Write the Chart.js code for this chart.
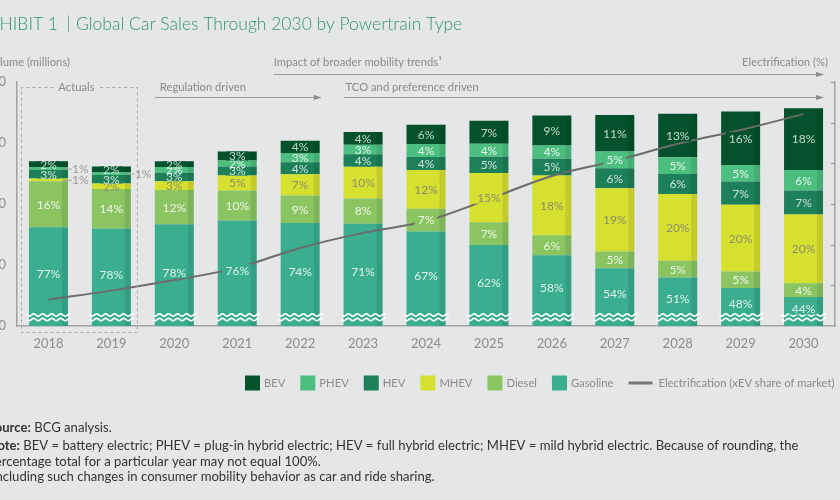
<!DOCTYPE html>
<html><head><meta charset="utf-8">
<script src="https://cdn.jsdelivr.net/npm/chart.js@4.4.1/dist/chart.umd.min.js"></script>
<style>
html,body{margin:0;padding:0;background:#e5e6e7;overflow:hidden;width:840px;height:500px;}
#wrap{position:absolute;left:-40px;top:0;width:920px;height:500px;}
canvas{display:block;}
</style></head><body>
<div id="wrap"><canvas id="c" width="920" height="500"></canvas></div>
<script>
// ---- data ----
const years = ['2018','2019','2020','2021','2022','2023','2024','2025','2026','2027','2028','2029','2030'];
// total volume, millions (axis is broken: bottom tick "0", visible range starts at 40)
const totals = [94.0, 92.3, 94.0, 97.2, 100.7, 103.6, 106.0, 107.3, 109.0, 109.2, 109.6, 110.3, 111.4];
// share of each powertrain, %
const bev      = [2, 2, 2, 3, 4, 4, 6, 7, 9, 11, 13, 16, 18];
const phev     = [1, 1, 2, 2, 3, 3, 4, 4, 4, 5, 5, 5, 6];
const hev      = [3, 3, 3, 3, 4, 4, 4, 5, 5, 6, 6, 7, 7];
const mhev     = [1, 2, 3, 5, 7, 10, 12, 15, 18, 19, 20, 20, 20];
const diesel   = [16, 14, 12, 10, 9, 8, 7, 7, 6, 5, 5, 5, 4];
const gasoline = [77, 78, 78, 76, 74, 71, 67, 62, 58, 54, 51, 48, 44];
// electrification (xEV share of market), %
const electrification = [6.5, 8.7, 11.3, 14.3, 19.2, 22.9, 25.8, 31.2, 36.9, 40.6, 44.8, 48.2, 52.1];
// tick labels of the volume axis (broken axis)
const yTickValues = [40, 60, 80, 100, 120];
const yTickLabels = ['0', '60', '80', '100', '120'];

// ---- styling ----
const OX = 40; // canvas is shifted 40px left of the page
const BG = '#e5e6e7';
const SANS = 'Lato, "Open Sans", sans-serif';
const seriesNames  = ['Gasoline', 'Diesel', 'MHEV', 'HEV', 'PHEV', 'BEV'];
const seriesPct    = [gasoline, diesel, mhev, hev, phev, bev];
const seriesColors = ['#3aae8f', '#8ac562', '#d6e02f', '#1d8058', '#4cbe80', '#03522d'];
const labelColors  = ['rgba(255,255,255,0.85)', 'rgba(255,255,255,0.85)', '#8e8e6a', 'rgba(235,245,238,0.85)', 'rgba(255,255,255,0.85)', 'rgba(225,238,229,0.85)'];

const sums = years.map((_, j) => seriesPct.reduce((s, a) => s + a[j], 0));
const barDatasets = seriesPct.map((arr, i) => ({
  label: seriesNames[i],
  data: arr.map((p, j) => p / sums[j] * totals[j]),
  backgroundColor: seriesColors[i],
  borderWidth: 0,
  barPercentage: 0.62,
  categoryPercentage: 1,
  yAxisID: 'y',
  order: 1,
  clip: {left: 10, right: 10, top: 10, bottom: 0}
}));
const lineDataset = {
  type: 'line',
  label: 'Electrification (xEV share of market)',
  data: electrification,
  yAxisID: 'y1',
  borderColor: '#6c6c6c',
  borderWidth: 2,
  pointRadius: 0,
  tension: 0.35,
  order: 0
};

// condensed text helper (horizontal squeeze to mimic the condensed typeface)
function ctext(c, txt, x, y, align, sx) {
  c.save(); c.translate(x, y); c.scale(sx, 1); c.textAlign = align; c.fillText(txt, 0, 0); c.restore();
}
function wave(c, x0, x1, y) {
  c.beginPath();
  for (let x = x0; x <= x1; x += 0.5) {
    const yy = y + Math.sin((x - x0) / 9 * 2 * Math.PI) * 1.1;
    if (x === x0) c.moveTo(x, yy); else c.lineTo(x, yy);
  }
  c.stroke();
}
function arrow(c, x0, x1, y) {
  c.strokeStyle = '#9a9a9a'; c.lineWidth = 1;
  c.beginPath(); c.moveTo(x0, y + 0.5); c.lineTo(x1 - 5, y + 0.5); c.stroke();
  c.fillStyle = '#8a8a8a';
  c.beginPath(); c.moveTo(x1, y + 0.5); c.lineTo(x1 - 8, y - 2); c.lineTo(x1 - 8, y + 3); c.closePath(); c.fill();
}

const decor = {
  id: 'decor',
  beforeDraw(chart) {
    const c = chart.ctx; c.save(); c.fillStyle = BG; c.fillRect(0, 0, chart.width, chart.height); c.restore();
  },
  afterDatasetDraw(chart, args) {
    if (chart.data.datasets[args.index].type === 'line') return;
    const c = chart.ctx, area = chart.chartArea;
    c.save(); c.fillStyle = 'rgba(0,0,0,0.09)';
    args.meta.data.forEach(el => {
      const p = el.getProps(['x', 'y', 'base', 'width'], true);
      const top = Math.max(Math.min(p.y, p.base), area.top);
      const bot = Math.min(Math.max(p.y, p.base), area.bottom);
      if (bot > top) c.fillRect(p.x + p.width / 2 - 6, top, 6, bot - top);
    });
    c.restore();
  },
  afterDatasetsDraw(chart) {
    const c = chart.ctx, area = chart.chartArea;
    c.save();
    // axis break waves
    c.strokeStyle = '#ffffff'; c.lineWidth = 1.6;
    chart.getDatasetMeta(0).data.forEach(el => {
      const p = el.getProps(['x', 'width'], true);
      wave(c, p.x - p.width / 2 - 2, p.x + p.width / 2 + 3, area.bottom - 11);
      wave(c, p.x - p.width / 2 - 2, p.x + p.width / 2 + 3, area.bottom - 6.5);
    });
    // segment labels
    c.font = `12px ${SANS}`; c.textBaseline = 'middle';
    seriesPct.forEach((arr, i) => {
      const meta = chart.getDatasetMeta(i);
      meta.data.forEach((el, j) => {
        const p = el.getProps(['x', 'y', 'base', 'width'], true);
        const top = p.y, bot = Math.min(p.base, area.bottom);
        const txt = arr[j] + '%';
        let yc = (top + bot) / 2;
        if (i === 0) yc = (top + area.bottom - 6) / 2;
        if (arr[j] <= 1) {
          const xr = p.x + p.width / 2;
          c.strokeStyle = '#a5a5a5'; c.lineWidth = 1;
          c.beginPath(); c.moveTo(xr - 5, yc + 0.5); c.lineTo(xr + 4, yc + 0.5); c.stroke();
          c.fillStyle = '#9a9a9a'; c.textAlign = 'left';
          c.fillText(txt, xr + 4, yc + 0.5);
        } else {
          const w = c.measureText(txt).width;
          c.save();
          c.beginPath(); c.rect(p.x - p.width / 2, top, p.width - 6, bot - top); c.clip();
          c.fillStyle = seriesColors[i];
          c.fillRect(p.x - w / 2 - 3, yc - 6, w + 6, 12);
          c.restore();
          c.fillStyle = labelColors[i]; c.textAlign = 'center';
          c.fillText(txt, p.x, yc + 0.5);
        }
      });
    });
    c.restore();
  },
  afterDraw(chart) {
    const c = chart.ctx, area = chart.chartArea, xs = chart.scales.x, y1 = chart.scales.y1;
    const el0 = chart.getDatasetMeta(0).data[0];
    const hb = el0.getProps(['width'], true).width / 2;
    const cx = k => xs.getPixelForValue(k);
    c.save();
    // right axis inward ticks
    c.strokeStyle = '#9a9a9a'; c.lineWidth = 1.2;
    [10, 20, 30, 40, 50, 60].forEach(v => {
      const yy = Math.round(y1.getPixelForValue(v)) + 0.5;
      c.beginPath(); c.moveTo(area.right - 4, yy); c.lineTo(area.right, yy); c.stroke();
    });
    // title
    c.textBaseline = 'alphabetic';
    c.fillStyle = '#33966b';
    c.font = `300 17.5px ${SANS}`;
    c.textAlign = 'right'; c.fillText('EXHIBIT 1', 58 + OX, 30);
    c.textAlign = 'center'; c.fillText('|', 68.5 + OX, 29);
    c.textAlign = 'left'; c.fillText('Global Car Sales Through 2030 by Powertrain Type', 76 + OX, 30);
    // top annotations (condensed)
    c.font = `12px ${SANS}`;
    const sxA = 176 / c.measureText(lineDataset.label).width;
    c.fillStyle = '#8a8a8a';
    ctext(c, 'Volume (millions)', 70 + OX, 66, 'right', sxA);
    ctext(c, 'Impact of broader mobility trends\u00B9', cx(4) - hb - 7, 66, 'left', sxA);
    ctext(c, 'Electrification (%)', 828 + OX, 66, 'right', sxA);
    arrow(c, cx(4) - hb - 7, cx(12) + hb + 1, 74);
    c.fillStyle = '#8a8a8a';
    ctext(c, 'Regulation driven', cx(2) - hb + 5, 91, 'left', sxA);
    arrow(c, cx(2) - hb, cx(4) + hb + 2, 97);
    c.fillStyle = '#8a8a8a';
    ctext(c, 'TCO and preference driven', cx(5) - hb + 2, 91, 'left', sxA);
    arrow(c, cx(5) - hb, cx(12) + hb + 1, 97);
    // Actuals dashed box
    const bl = cx(0) - hb - 7.5, br = cx(1) + hb + 6.5, bt = 87.5, bb = area.bottom + 6.5;
    c.fillStyle = '#8a8a8a';
    const aw = c.measureText('Actuals').width * sxA;
    const am = (bl + br) / 2 - 3;
    ctext(c, 'Actuals', am, 91, 'center', sxA);
    c.strokeStyle = '#a8a8a8'; c.lineWidth = 1; c.setLineDash([3, 3]);
    c.beginPath();
    c.moveTo(am - aw / 2 - 5, bt); c.lineTo(bl, bt); c.lineTo(bl, bb); c.lineTo(br, bb); c.lineTo(br, bt); c.lineTo(am + aw / 2 + 5, bt);
    c.stroke();
    c.setLineDash([]);
    // legend
    let lx = 245 + OX; const ly = 383;
    c.textBaseline = 'middle';
    [5, 4, 3, 2, 1, 0].forEach(i => {
      c.fillStyle = seriesColors[i]; c.fillRect(lx, ly - 7.5, 15, 15);
      c.fillStyle = '#8a8a8a'; ctext(c, seriesNames[i], lx + 19, ly + 0.5, 'left', sxA);
      lx += 19 + c.measureText(seriesNames[i]).width * sxA + 15;
    });
    c.strokeStyle = '#777777'; c.lineWidth = 3;
    c.beginPath(); c.moveTo(lx, ly); c.lineTo(lx + 24, ly); c.stroke();
    c.fillStyle = '#8a8a8a'; ctext(c, lineDataset.label, lx + 30, ly + 0.5, 'left', sxA);
    // notes (condensed)
    const nx = -12.5 + OX;
    c.textBaseline = 'alphabetic'; c.fillStyle = '#333333';
    const noteRest = ' BEV = battery electric; PHEV = plug-in hybrid electric; HEV = full hybrid electric; MHEV = mild hybrid electric. Because of rounding, the';
    c.font = `bold 13.5px ${SANS}`; const wN = c.measureText('Note:').width;
    c.font = `13.5px ${SANS}`; const wR = c.measureText(noteRest).width;
    const sxN = 811 / (wN + wR);
    const rich = (bold, rest, y) => {
      c.font = `bold 13.5px ${SANS}`; ctext(c, bold, nx, y, 'left', sxN);
      const w = c.measureText(bold).width * sxN;
      c.font = `13.5px ${SANS}`; ctext(c, rest, nx + w, y, 'left', sxN);
    };
    rich('Source:', ' BCG analysis.', 432);
    rich('Note:', noteRest, 450);
    c.font = `13.5px ${SANS}`;
    ctext(c, 'percentage total for a particular year may not equal 100%.', nx, 466, 'left', sxN);
    ctext(c, '\u00B9Including such changes in consumer mobility behavior as car and ride sharing.', nx, 481, 'left', sxN);
    c.restore();
  }
};

new Chart(document.getElementById('c'), {
  type: 'bar',
  data: { labels: years, datasets: [...barDatasets, lineDataset] },
  options: {
    responsive: false,
    animation: false,
    layout: { padding: { top: 82, bottom: 144, left: 0, right: 0 } },
    plugins: { legend: { display: false }, tooltip: { enabled: false } },
    scales: {
      x: {
        stacked: true,
        grid: { display: false, drawTicks: false },
        border: { display: true, color: '#a3a3a3', width: 1.5 },
        ticks: { color: '#8c8c8c', font: { family: SANS, size: 13 }, padding: 10, maxRotation: 0 },
        afterFit: s => { s.height = 30; }
      },
      y: {
        stacked: true,
        min: 40, max: 120,
        afterBuildTicks: s => { s.ticks = yTickValues.map(v => ({ value: v })); },
        ticks: {
          color: '#8c8c8c', font: { family: SANS, size: 13 }, padding: 11,
          callback: v => yTickLabels[yTickValues.indexOf(v)]
        },
        grid: { display: false, drawTicks: false },
        border: { display: true, color: '#a3a3a3', width: 1.5 },
        afterFit: s => { s.width = 57; }
      },
      y1: {
        position: 'right',
        min: 0, max: 60,
        ticks: { stepSize: 10, color: '#8c8c8c', font: { family: SANS, size: 13 }, padding: 8 },
        grid: { display: false, drawTicks: false },
        border: { display: true, color: '#a3a3a3', width: 1.5 },
        afterFit: s => { s.width = 45; }
      }
    }
  },
  plugins: [decor]
});
</script>
</body></html>
